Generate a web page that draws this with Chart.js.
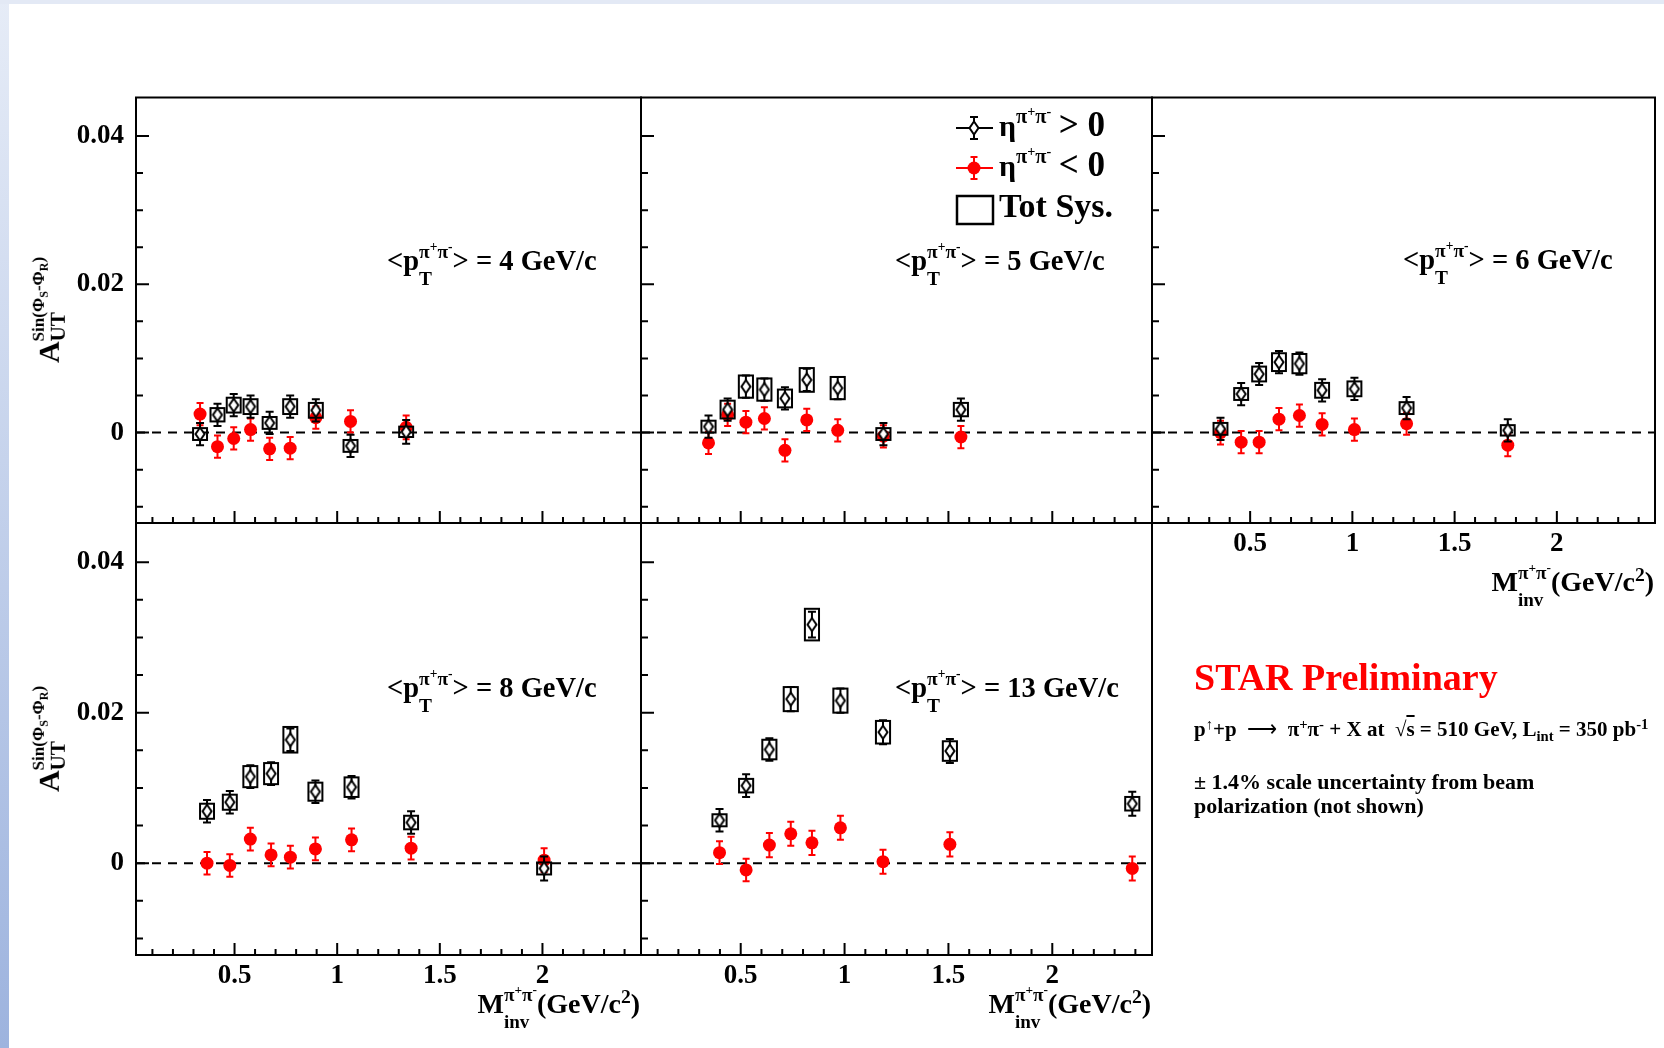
<!DOCTYPE html>
<html>
<head>
<meta charset="utf-8">
<title>STAR Preliminary - A_UT sin(phiS-phiR) vs M_inv</title>
<script src="https://cdn.jsdelivr.net/npm/chart.js@4.4.0/dist/chart.umd.min.js"></script>
<style>
  html, body { margin: 0; padding: 0; background: #fff; }
  #page {
    position: relative; width: 1664px; height: 1048px; overflow: hidden; background: #fff;
    font-family: 'Liberation Serif', 'Times New Roman', serif; font-weight: bold; color: #000;
  }
  .edge-left { position: absolute; left: 0; top: 0; width: 9px; height: 1048px;
    background: linear-gradient(#e6ecf7, #9db3de); }
  .edge-top { position: absolute; left: 0; top: 0; width: 1664px; height: 4px; background: #e3e9f5; }
  canvas { position: absolute; left: 0; top: 0; }
  .t { position: absolute; white-space: nowrap; line-height: 1; z-index: 5; }
  .st { display: inline-block; position: relative; font-size: 0.68em; vertical-align: 0.62em; line-height: 1; }
  .st .lo { position: absolute; left: 0; top: 1.4em; }
  .s2 { font-size: 0.7em; vertical-align: 0.5em; line-height: 0; }
  .d2 { font-size: 0.7em; vertical-align: -0.35em; line-height: 0; }
  .pt { font-size: 28.5px; }
  .xt { font-size: 28px; text-align: right; }
  .yt { font-size: 30px; width: 180px; text-align: center; transform: translate(-50%, -50%) rotate(-90deg); }
  .yt .st { font-size: 0.57em; vertical-align: 0.9em; }
  .yt .st .lo { top: 0.86em; font-size: 1.24em; }
  .big { font-size: 1.17em; }
</style>
</head>
<body>
<div id="page">
  <div class="edge-left"></div>
  <div class="edge-top"></div>
</div>
<script>
// ---- data ----------------------------------------------------------------
const ptLabels = ['4', '5', '6', '8', '13'];

// invariant mass bin centres (GeV/c^2) for each <pT> bin
const massPt4  = [0.332, 0.417, 0.496, 0.578, 0.671, 0.771, 0.896, 1.065, 1.336];
const massPt5  = [0.345, 0.437, 0.525, 0.614, 0.713, 0.818, 0.967, 1.187, 1.560];
const massPt6  = [0.355, 0.456, 0.544, 0.641, 0.741, 0.852, 1.010, 1.265, 1.760];
const massPt8  = [0.366, 0.477, 0.577, 0.678, 0.772, 0.894, 1.070, 1.360, 2.008];
const massPt13 = [0.398, 0.526, 0.638, 0.741, 0.843, 0.980, 1.185, 1.507, 2.385];

// eta > 0 (black open diamonds)
const etaPosPt4  = [-0.0002, 0.0024, 0.0037, 0.0035, 0.0013, 0.0035, 0.0030, -0.0018, 0.0001];
const etaPosPt5  = [0.0008, 0.0031, 0.0062, 0.0058, 0.0046, 0.0071, 0.0060, -0.0002, 0.0031];
const etaPosPt6  = [0.0005, 0.0052, 0.0079, 0.0095, 0.0093, 0.0057, 0.0059, 0.0033, 0.0003];
const etaPosPt8  = [0.0069, 0.0081, 0.0115, 0.0119, 0.0164, 0.0095, 0.0101, 0.0054, -0.0007];
const etaPosPt13 = [0.0057, 0.0103, 0.0151, 0.0218, 0.0317, 0.0216, 0.0174, 0.0149, 0.0079];

const etaPosErrPt4  = [0.0015, 0.0015, 0.0015, 0.0015, 0.0015, 0.0015, 0.0015, 0.0015, 0.0016];
const etaPosErrPt5  = [0.0015, 0.0015, 0.0015, 0.0015, 0.0015, 0.0015, 0.0015, 0.0015, 0.0015];
const etaPosErrPt6  = [0.0015, 0.0015, 0.0015, 0.0015, 0.0015, 0.0015, 0.0015, 0.0015, 0.0015];
const etaPosErrPt8  = [0.0015, 0.0015, 0.0015, 0.0015, 0.0015, 0.0015, 0.0015, 0.0015, 0.0016];
const etaPosErrPt13 = [0.0015, 0.0015, 0.0015, 0.0016, 0.0017, 0.0016, 0.0016, 0.0016, 0.0016];

// total systematics (half height of the boxes), eta > 0
const etaPosSysPt4  = [0.0008, 0.0009, 0.0010, 0.0010, 0.0008, 0.0010, 0.0010, 0.0008, 0.0007];
const etaPosSysPt5  = [0.0008, 0.0012, 0.0015, 0.0015, 0.0012, 0.0016, 0.0015, 0.0008, 0.0009];
const etaPosSysPt6  = [0.0008, 0.0008, 0.0010, 0.0012, 0.0013, 0.0010, 0.0010, 0.0008, 0.0007];
const etaPosSysPt8  = [0.0010, 0.0010, 0.0014, 0.0014, 0.0017, 0.0012, 0.0013, 0.0009, 0.0008];
const etaPosSysPt13 = [0.0008, 0.0009, 0.0013, 0.0016, 0.0021, 0.0016, 0.0015, 0.0013, 0.0009];

// eta < 0 (red full circles)
const etaNegPt4  = [0.0025, -0.0019, -0.0008, 0.0004, -0.0022, -0.0021, 0.0020, 0.0015, 0.0007];
const etaNegPt5  = [-0.0014, 0.0024, 0.0014, 0.0019, -0.0024, 0.0017, 0.0003, -0.0005, -0.0006];
const etaNegPt6  = [0.0000, -0.0013, -0.0013, 0.0018, 0.0023, 0.0011, 0.0004, 0.0012, -0.0017];
const etaNegPt8  = [0.0000, -0.0003, 0.0032, 0.0011, 0.0008, 0.0019, 0.0031, 0.0020, 0.0004];
const etaNegPt13 = [0.0014, -0.0009, 0.0024, 0.0039, 0.0027, 0.0047, 0.0002, 0.0025, -0.0007];

const etaNegErrPt4  = [0.0015, 0.0015, 0.0015, 0.0015, 0.0015, 0.0015, 0.0015, 0.0015, 0.0016];
const etaNegErrPt5  = [0.0015, 0.0015, 0.0015, 0.0015, 0.0015, 0.0015, 0.0015, 0.0015, 0.0015];
const etaNegErrPt6  = [0.0016, 0.0015, 0.0015, 0.0015, 0.0015, 0.0015, 0.0015, 0.0015, 0.0015];
const etaNegErrPt8  = [0.0015, 0.0015, 0.0015, 0.0015, 0.0015, 0.0015, 0.0015, 0.0015, 0.0016];
const etaNegErrPt13 = [0.0015, 0.0015, 0.0016, 0.0016, 0.0016, 0.0016, 0.0016, 0.0016, 0.0016];

// axes
const xMin = 0.02, xMax = 2.48;
const yMin = -0.0122, yMax = 0.0452;
const xTickValues = [0.5, 1, 1.5, 2];
const xTickLabels = ['0.5', '1', '1.5', '2'];
const yTickValues = [0, 0.02, 0.04];
const yTickLabels = ['0', '0.02', '0.04'];
const sysHalfWidth = 0.034;   // GeV/c^2

// ---- layout (pixel frame of each pad) ------------------------------------
const panels = [
  { pt: ptLabels[0], mass: massPt4,  pos: etaPosPt4,  posErr: etaPosErrPt4,  posSys: etaPosSysPt4,  neg: etaNegPt4,  negErr: etaNegErrPt4,
    frame: [136, 97.5, 641, 523], yLabels: true,  xLabels: false, legend: false, label: [387, 242] },
  { pt: ptLabels[1], mass: massPt5,  pos: etaPosPt5,  posErr: etaPosErrPt5,  posSys: etaPosSysPt5,  neg: etaNegPt5,  negErr: etaNegErrPt5,
    frame: [641, 97.5, 1152, 523], yLabels: false, xLabels: false, legend: true,  label: [895, 242] },
  { pt: ptLabels[2], mass: massPt6,  pos: etaPosPt6,  posErr: etaPosErrPt6,  posSys: etaPosSysPt6,  neg: etaNegPt6,  negErr: etaNegErrPt6,
    frame: [1152, 97.5, 1655, 523], yLabels: false, xLabels: true, legend: false, label: [1403, 241], xTitleTop: 563 },
  { pt: ptLabels[3], mass: massPt8,  pos: etaPosPt8,  posErr: etaPosErrPt8,  posSys: etaPosSysPt8,  neg: etaNegPt8,  negErr: etaNegErrPt8,
    frame: [136, 523, 641, 955], yLabels: true,  xLabels: true, legend: false, label: [387, 669], xTitleTop: 985 },
  { pt: ptLabels[4], mass: massPt13, pos: etaPosPt13, posErr: etaPosErrPt13, posSys: etaPosSysPt13, neg: etaNegPt13, negErr: etaNegErrPt13,
    frame: [641, 523, 1152, 955], yLabels: false, xLabels: true, legend: false, label: [895, 669], xTitleTop: 985 }
];

Chart.defaults.font.family = "'Liberation Serif', 'Times New Roman', serif";
Chart.defaults.font.weight = 'bold';
Chart.defaults.color = '#000';

// ROOT-like open diamond marker
function makeDiamond() {
  const c = document.createElement('canvas');
  c.width = 12; c.height = 16;
  const g = c.getContext('2d');
  g.beginPath();
  g.moveTo(6, 1.5); g.lineTo(10.5, 8); g.lineTo(6, 14.5); g.lineTo(1.5, 8); g.closePath();
  g.fillStyle = '#fff'; g.fill();
  g.lineWidth = 2; g.strokeStyle = '#000'; g.stroke();
  return c;
}
const diamond = makeDiamond();

function errBar(ctx, px, yLo, yHi, cap) {
  ctx.moveTo(px, yLo); ctx.lineTo(px, yHi);
  ctx.moveTo(px - cap, yLo); ctx.lineTo(px + cap, yLo);
  ctx.moveTo(px - cap, yHi); ctx.lineTo(px + cap, yHi);
}

const panelDeco = {
  id: 'panelDeco',
  beforeDatasetsDraw(chart, args, opts) {
    const { ctx, chartArea: a } = chart;
    const x = chart.scales.x, y = chart.scales.y;
    ctx.save();
    ctx.strokeStyle = '#000';
    ctx.lineWidth = 2;
    ctx.strokeRect(a.left, a.top, a.right - a.left, a.bottom - a.top);
    // inward ticks on the bottom and left axes
    ctx.beginPath();
    for (let k = 1; k <= 24; k++) {
      const px = x.getPixelForValue(k / 10);
      const len = k % 5 === 0 ? 12 : 6;
      ctx.moveTo(px, a.bottom); ctx.lineTo(px, a.bottom - len);
    }
    for (let k = -2; k <= 8; k++) {
      const py = y.getPixelForValue(k * 0.005);
      const len = k % 4 === 0 ? 13 : 7;
      ctx.moveTo(a.left, py); ctx.lineTo(a.left + len, py);
    }
    ctx.stroke();
    // dashed zero line
    const y0 = y.getPixelForValue(0);
    ctx.beginPath();
    ctx.setLineDash([9, 7]);
    ctx.moveTo(a.left, y0); ctx.lineTo(a.right, y0);
    ctx.stroke();
    ctx.restore();
  },
  beforeDatasetDraw(chart, args, opts) {
    const p = opts.panel;
    const { ctx } = chart;
    const x = chart.scales.x, y = chart.scales.y;
    ctx.save();
    ctx.lineWidth = 2;
    if (args.index === 0) {
      ctx.strokeStyle = '#000';
      p.mass.forEach((m, i) => {
        const xl = x.getPixelForValue(m - sysHalfWidth), xr = x.getPixelForValue(m + sysHalfWidth);
        const yt = y.getPixelForValue(p.pos[i] + p.posSys[i]), yb = y.getPixelForValue(p.pos[i] - p.posSys[i]);
        ctx.strokeRect(xl, yt, xr - xl, yb - yt);
      });
      ctx.beginPath();
      p.mass.forEach((m, i) => {
        errBar(ctx, x.getPixelForValue(m), y.getPixelForValue(p.pos[i] - p.posErr[i]), y.getPixelForValue(p.pos[i] + p.posErr[i]), 4);
      });
      ctx.stroke();
    } else {
      ctx.strokeStyle = '#ff0000';
      ctx.beginPath();
      p.mass.forEach((m, i) => {
        errBar(ctx, x.getPixelForValue(m), y.getPixelForValue(p.neg[i] - p.negErr[i]), y.getPixelForValue(p.neg[i] + p.negErr[i]), 3.5);
      });
      ctx.stroke();
    }
    ctx.restore();
  },
  afterDraw(chart, args, opts) {
    if (!opts.panel.legend) return;
    const ctx = chart.ctx;
    ctx.save();
    ctx.lineWidth = 2;
    // eta > 0
    ctx.strokeStyle = '#000';
    ctx.beginPath();
    ctx.moveTo(956, 128); ctx.lineTo(993, 128);
    errBar(ctx, 974, 139, 117, 4);
    ctx.stroke();
    ctx.drawImage(diamond, 968, 120);
    // eta < 0
    ctx.strokeStyle = '#ff0000';
    ctx.beginPath();
    ctx.moveTo(956, 168); ctx.lineTo(993, 168);
    errBar(ctx, 974, 179, 157, 3.5);
    ctx.stroke();
    ctx.fillStyle = '#ff0000';
    ctx.beginPath(); ctx.arc(974, 168, 6.5, 0, Math.PI * 2); ctx.fill();
    // Tot Sys.
    ctx.strokeStyle = '#000';
    ctx.lineWidth = 2.5;
    ctx.strokeRect(957, 196, 36, 28);
    ctx.restore();
  }
};

const page = document.getElementById('page');

panels.forEach(p => {
  const cv = document.createElement('canvas');
  cv.width = 1664; cv.height = 1048;
  page.appendChild(cv);
  const yw = p.yLabels ? 60 : 0;
  const xh = p.xLabels ? 40 : 0;
  const [L, T, R, B] = p.frame;
  new Chart(cv.getContext('2d'), {
    type: 'scatter',
    data: {
      datasets: [{
        label: 'eta > 0',
        data: p.mass.map((m, i) => ({ x: m, y: p.pos[i] })),
        pointStyle: diamond,
        pointRadius: 6,
        order: 1
      }, {
        label: 'eta < 0',
        data: p.mass.map((m, i) => ({ x: m, y: p.neg[i] })),
        pointStyle: 'circle',
        pointRadius: 6.5,
        backgroundColor: '#ff0000',
        borderColor: '#ff0000',
        borderWidth: 0,
        order: 2
      }]
    },
    options: {
      responsive: false,
      animation: false,
      devicePixelRatio: 1,
      layout: { padding: { left: L - yw, top: T, right: 1664 - R, bottom: 1048 - B - xh } },
      plugins: {
        legend: { display: false },
        tooltip: { enabled: false },
        panelDeco: { panel: p }
      },
      scales: {
        x: {
          type: 'linear', min: xMin, max: xMax,
          grid: { display: false, drawTicks: false },
          border: { display: false },
          afterBuildTicks: s => { s.ticks = xTickValues.map(v => ({ value: v })); },
          afterFit: s => { s.height = xh; },
          ticks: {
            display: p.xLabels, autoSkip: false, maxRotation: 0, minRotation: 0, padding: 5,
            callback: (v, i) => xTickLabels[i],
            font: { size: 27, weight: 'bold' }, color: '#000'
          }
        },
        y: {
          type: 'linear', min: yMin, max: yMax,
          grid: { display: false, drawTicks: false },
          border: { display: false },
          afterBuildTicks: s => { s.ticks = yTickValues.map(v => ({ value: v })); },
          afterFit: s => { s.width = yw; },
          ticks: {
            display: p.yLabels, padding: 12,
            callback: (v, i) => yTickLabels[i],
            font: { size: 27, weight: 'bold' }, color: '#000'
          }
        }
      }
    },
    plugins: [panelDeco]
  });
});

// ---- text ----------------------------------------------------------------
const pipi = 'π<span class="s2">+</span>π<span class="s2">-</span>';
function addText(cls, style, html) {
  const d = document.createElement('div');
  d.className = 't ' + cls;
  d.setAttribute('style', style);
  d.innerHTML = html;
  page.appendChild(d);
}

panels.forEach(p => {
  addText('pt', `left:${p.label[0]}px;top:${p.label[1]}px;`,
    `&lt;p<span class="st">${pipi}<span class="lo">T</span></span>&gt; = ${p.pt} GeV/c`);
  if (p.xLabels) {
    addText('xt', `right:${1664 - p.frame[2] + 1}px;top:${p.xTitleTop}px;`,
      `M<span class="st">${pipi}<span class="lo">inv</span></span>(GeV/c<span class="s2">2</span>)`);
  }
  if (p.yLabels) {
    addText('yt', `left:47px;top:${(p.frame[1] + p.frame[3]) / 2}px;`,
      `A<span class="st">Sin(Φ<span class="d2">S</span>-Φ<span class="d2">R</span>)<span class="lo">UT</span></span>`);
  }
});

// legend text (symbols are drawn on the second pad)
addText('', 'left:999px;top:106px;font-size:30px;', `η<span class="st">${pipi}</span> <span class="big">&gt; 0</span>`);
addText('', 'left:999px;top:146px;font-size:30px;', `η<span class="st">${pipi}</span> <span class="big">&lt; 0</span>`);
addText('', 'left:999px;top:189px;font-size:34px;', 'Tot Sys.');

addText('', 'left:1194px;top:658px;font-size:38px;color:#ff0000;', 'STAR Preliminary');
addText('', 'left:1194px;top:719px;font-size:21px;',
  'p<span class="s2">↑</span>+p&nbsp; <span style="font-weight:normal">⟶</span>&nbsp; π<span class="s2">+</span>π<span class="s2">-</span> + X at&nbsp; √<span style="text-decoration:overline">s</span> = 510 GeV, L<span class="d2">int</span> = 350 pb<span class="s2">-1</span>');
addText('', 'left:1194px;top:770px;font-size:22px;line-height:24px;',
  '± 1.4% scale uncertainty from beam<br>polarization (not shown)');
</script>
</body>
</html>
